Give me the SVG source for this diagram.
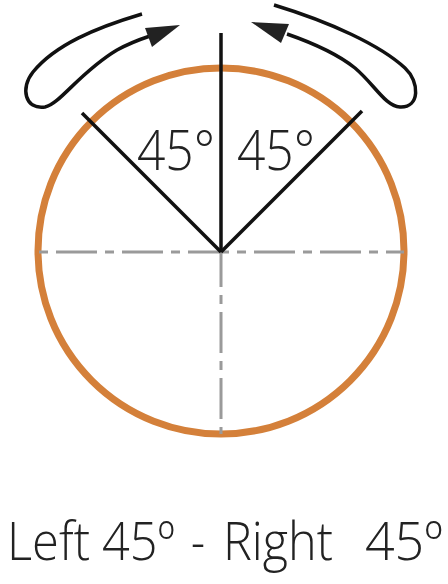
<svg xmlns="http://www.w3.org/2000/svg" width="448" height="584" viewBox="0 0 448 584">
<style>
.ln{stroke:#111;stroke-width:3.5;fill:none;stroke-linecap:butt}
.ax{stroke:#9a9a9a;stroke-width:3;fill:none;stroke-dasharray:9 8 41 8}
.t{font-family:"Open Sans","Noto Sans",sans-serif;font-weight:300;fill:#222}
.ar{fill:#222}
</style>
<rect width="448" height="584" fill="#fff"/>
<g id="circle">
<circle cx="221" cy="251" r="183" fill="none" stroke="#D4803A" stroke-width="7"/>
</g>
<g id="axes">
<line class="ax" x1="39" y1="252" x2="404" y2="252"/>
<line class="ax" x1="221" y1="252" x2="221" y2="434" style="stroke-dasharray:41 8 9 8;stroke-dashoffset:6"/>
</g>
<g id="connectors">
<line class="ln" x1="221" y1="252" x2="221" y2="33"/>
<line class="ln" x1="221" y1="252" x2="82" y2="113"/>
<line class="ln" x1="221" y1="252" x2="362" y2="111"/>
</g>
<g id="arrow-left">
<path class="ln" d="M142,14 C95,28 55,45 33,72 C20,88 25,110 45,107 C60,104 80,72 117,50 C128,44 138,40 150,36"/>
<polygon class="ar" points="180,25 145,28 152,47"/>
</g>
<g id="arrow-right">
<path class="ln" d="M274,5 C330,22 380,45 405,68 C420,82 420,108 400,107 C385,106 375,85 355,68 C335,52 310,42 287,34"/>
<polygon class="ar" points="251,22 289,24 281,43"/>
</g>
<g id="label-left"><text class="t" x="137" y="170" font-size="56" textLength="78" lengthAdjust="spacingAndGlyphs">45°</text></g>
<g id="label-right"><text class="t" x="237" y="170" font-size="56" textLength="78" lengthAdjust="spacingAndGlyphs">45°</text></g>
<g id="caption"><text class="t" y="560" font-size="54"><tspan x="7" textLength="83" lengthAdjust="spacingAndGlyphs">Left</tspan><tspan x="102" textLength="73" lengthAdjust="spacingAndGlyphs">45º</tspan><tspan x="191" textLength="14" lengthAdjust="spacingAndGlyphs">-</tspan><tspan x="223" textLength="110" lengthAdjust="spacingAndGlyphs">Right</tspan><tspan x="365" textLength="78" lengthAdjust="spacingAndGlyphs">45º</tspan></text></g>
</svg>
